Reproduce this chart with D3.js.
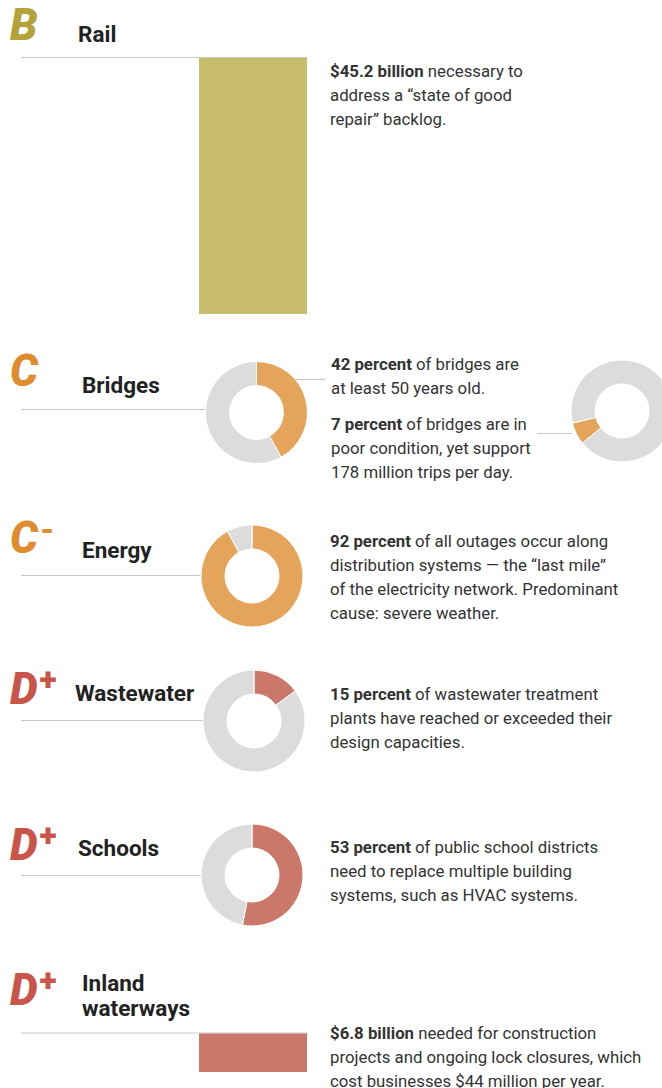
<meta charset="utf-8">
<body>
</body>
<script src="https://d3js.org/d3.v7.min.js"></script>
<script>
// data
var categories = ["Rail", "Bridges", "Energy", "Wastewater", "Schools", "Inland waterways"];
var grades = ["B", "C", "C-", "D+", "D+", "D+"];
var billions = {"Rail": 45.2, "Inland waterways": 6.8};
var bridgesPct = [42, 7];
var energyPct = 92;
var wastewaterPct = 15;
var schoolsPct = 53;

var notes = {
  "Rail": [["$45.2 billion", " necessary to"], ["", "address a \u201cstate of good"], ["", "repair\u201d backlog."]],
  "Bridges42": [["42 percent", " of bridges are"], ["", "at least 50 years old."]],
  "Bridges7": [["7 percent", " of bridges are in"], ["", "poor condition, yet support"], ["", "178 million trips per day."]],
  "Energy": [["92 percent", " of all outages occur along"], ["", "distribution systems \u2014 the \u201clast mile\u201d"], ["", "of the electricity network. Predominant"], ["", "cause: severe weather."]],
  "Wastewater": [["15 percent", " of wastewater treatment"], ["", "plants have reached or exceeded their"], ["", "design capacities."]],
  "Schools": [["53 percent", " of public school districts"], ["", "need to replace multiple building"], ["", "systems, such as HVAC systems."]],
  "Inland waterways": [["$6.8 billion", " needed for construction"], ["", "projects and ongoing lock closures, which"], ["", "cost businesses $44 million per year."]]
};

var gradeColor = {"B": "#b3a238", "C": "#df8c2f", "C-": "#df8c2f", "D+": "#c9544a"};
var fillColor = {"B": "#c8bd6c", "C": "#e4a55a", "C-": "#e4a55a", "D+": "#cb786b"};
var grey = "#dcdcdc";

var svg = d3.select("body").append("svg")
  .attr("width", 662)
  .attr("height", 1088);

var yBar = d3.scaleLinear().domain([0, 45.2]).range([0, 256]);
var arc = d3.arc().innerRadius(27).outerRadius(51);

function header(i, gy, ty, tx) {
  var g = grades[i];
  svg.append("text")
    .attr("class", "grade")
    .attr("x", 10).attr("y", gy)
    .attr("fill", gradeColor[g])
    .text(g.charAt(0))
    .append("tspan")
    .attr("class", "mod")
    .attr("dx", 2)
    .attr("dy", g.charAt(1) == "-" ? -12 : -14)
    .text(g.slice(1));
  var words = categories[i] == "Inland waterways" ? ["Inland", "waterways"] : [categories[i]];
  words.forEach(function(w, k) {
    svg.append("text").attr("class", "title")
      .attr("x", tx).attr("y", ty + k * 25)
      .text(w);
  });
}

function rule(y, x1, x2) {
  svg.append("line")
    .attr("x1", x1).attr("x2", x2)
    .attr("y1", y).attr("y2", y)
    .attr("stroke", "#c8c8c8").attr("stroke-width", 1.2);
}

function note(lines, x, y) {
  lines.forEach(function(l, k) {
    var t = svg.append("text").attr("class", "note")
      .attr("x", x).attr("y", y + k * 24);
    if (l[0]) t.append("tspan").attr("font-weight", "bold").text(l[0]);
    t.append("tspan").text(l[1]);
  });
}

function donut(pct, cx, cy, color, start) {
  var s = (start || 0) * Math.PI / 180;
  var pie = d3.pie().sort(null).startAngle(s).endAngle(s + 2 * Math.PI);
  svg.append("g")
    .attr("transform", "translate(" + cx + "," + cy + ")")
    .selectAll("path")
    .data(pie([pct, 100 - pct]))
    .join("path")
    .attr("d", arc)
    .attr("fill", function(d, i) { return i == 0 ? color : grey; })
    .attr("stroke", "#fff")
    .attr("stroke-width", 1);
}

function bar(value, y, color) {
  svg.append("rect")
    .attr("x", 199).attr("y", y)
    .attr("width", 108)
    .attr("height", yBar(value))
    .attr("fill", color);
}

// Rail
header(0, 40, 42, 78);
rule(57.5, 21, 307);
bar(billions["Rail"], 58, fillColor["B"]);
note(notes["Rail"], 330, 77);

// Bridges
header(1, 386, 393, 82);
rule(409.5, 21, 207);
donut(bridgesPct[0], 256.5, 412.5, fillColor["C"]);
rule(379.5, 294, 325);
note(notes["Bridges42"], 331, 370);
rule(433.5, 537, 572);
donut(bridgesPct[1], 622, 411, fillColor["C"], 231);
note(notes["Bridges7"], 331, 430);

// Energy
header(2, 553, 558, 82);
rule(575.5, 21, 201);
donut(energyPct, 252, 576, fillColor["C-"]);
note(notes["Energy"], 330, 547);

// Wastewater
header(3, 704, 701, 75);
rule(720.5, 21, 204);
donut(wastewaterPct, 254, 721, fillColor["D+"]);
note(notes["Wastewater"], 330, 700);

// Schools
header(4, 860, 856, 78);
rule(875.5, 21, 201);
donut(schoolsPct, 252, 875, fillColor["D+"]);
note(notes["Schools"], 330, 853);

// Inland waterways
header(5, 1005, 991, 82);
rule(1033, 21, 308);
bar(billions["Inland waterways"], 1033.5, fillColor["D+"]);
note(notes["Inland waterways"], 330, 1039);
</script>
<style>
body { margin: 0; background: #fff; }
svg text { font-family: Roboto, "DejaVu Sans", sans-serif; }
.grade { font-size: 44px; font-weight: 900; font-style: italic; }
.grade .mod { font-size: 32px; font-weight: 900; font-style: normal; }
.title { font-size: 22.5px; font-weight: bold; fill: #222; }
.note { font-size: 16.8px; fill: #333; }
</style>
